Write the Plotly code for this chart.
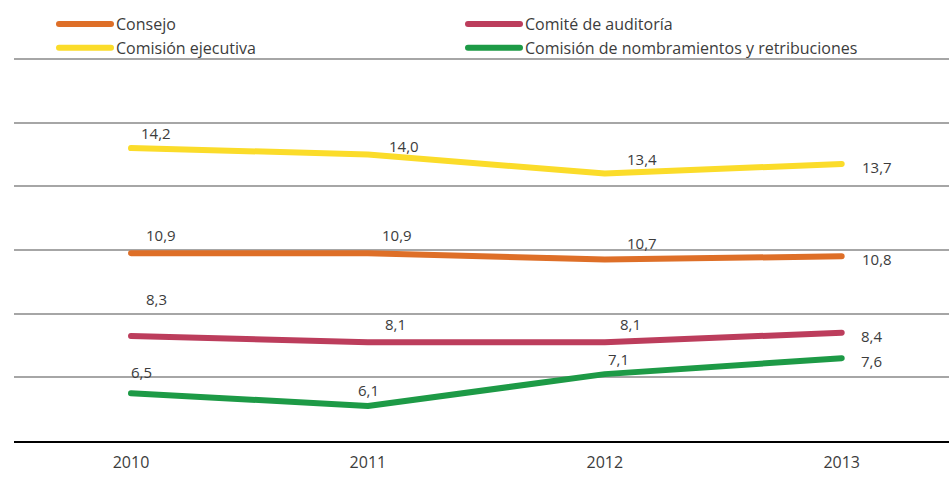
import plotly.graph_objects as go

years = ["2010", "2011", "2012", "2013"]
consejo = [10.9, 10.9, 10.7, 10.8]
ejecutiva = [14.2, 14.0, 13.4, 13.7]
auditoria = [8.3, 8.1, 8.1, 8.4]
nombramientos = [6.5, 6.1, 7.1, 7.6]

names = ["Consejo", "Comité de auditoría", "Comisión ejecutiva",
         "Comisión de nombramientos y retribuciones"]
series = [consejo, auditoria, ejecutiva, nombramientos]
colors = ["#DE6F28", "#BC3D5C", "#FBDC2A", "#1D9A46"]

# label offsets in px (dx right, dy up), per series / per point
label_dx = [[30, 29, 37, 35], [25, 28, 26, 30], [25, 36, 37, 35], [10, 1, 14, 30]]
label_dy = [[18, 18, 17, -3], [37, 18, 18, -3], [15, 8, 15, -3], [21, 16, 15, -3]]

FONT = "Open Sans"
TXT = "#3c3c3c"

fig = go.Figure()
for name, vals, col in zip(names, series, colors):
    fig.add_trace(go.Scatter(
        x=years, y=vals, name=name, mode="lines",
        line=dict(color=col, width=6),
        hoverinfo="skip",
    ))

annotations = []
for vals, dxs, dys in zip(series, label_dx, label_dy):
    for i, (v, dx, dy) in enumerate(zip(vals, dxs, dys)):
        annotations.append(dict(
            x=i, y=v, xref="x", yref="y",
            text=f"{v:.1f}".replace(".", ","),
            showarrow=False, xshift=dx, yshift=dy,
            xanchor="center", yanchor="middle",
            font=dict(family=FONT, size=15, color=TXT),
        ))

fig.update_layout(
    width=949, height=492,
    margin=dict(l=14, r=0, t=56.5, b=50.8, autoexpand=False),
    paper_bgcolor="white", plot_bgcolor="white",
    font=dict(family=FONT, size=15, color=TXT),
    showlegend=True,
    legend=dict(
        orientation="h", xref="container", yref="container",
        x=54 / 949, y=1 - 7 / 492, xanchor="left", yanchor="top",
        entrywidth=342, itemwidth=52,
        font=dict(family=FONT, size=16, color=TXT),
        bgcolor="rgba(0,0,0,0)", itemclick=False, itemdoubleclick=False,
    ),
    annotations=annotations,
    xaxis=dict(
        type="category", range=[-0.494, 3.453],
        showgrid=False, showline=True, linecolor="black", linewidth=2,
        ticks="outside", ticklen=6, tickcolor="rgba(0,0,0,0)",
        tickfont=dict(family=FONT, size=16, color=TXT),
        fixedrange=True,
    ),
    yaxis=dict(
        range=[5, 17.06], dtick=2, tick0=5, showticklabels=False,
        showgrid=True, gridcolor="#A6A6A6", gridwidth=2,
        zeroline=False, showline=False, fixedrange=True,
    ),
)

post = (
    "document.body.style.margin='0';document.body.style.overflow='hidden';"
    "document.querySelectorAll('.scatterlayer .js-line, .legendlines path')"
    ".forEach(function(p){p.style.strokeLinecap='round';p.style.strokeLinejoin='round';});"
)

fig.write_html(
    "out.html",
    config={"displayModeBar": False, "staticPlot": True},
    post_script=post,
)
